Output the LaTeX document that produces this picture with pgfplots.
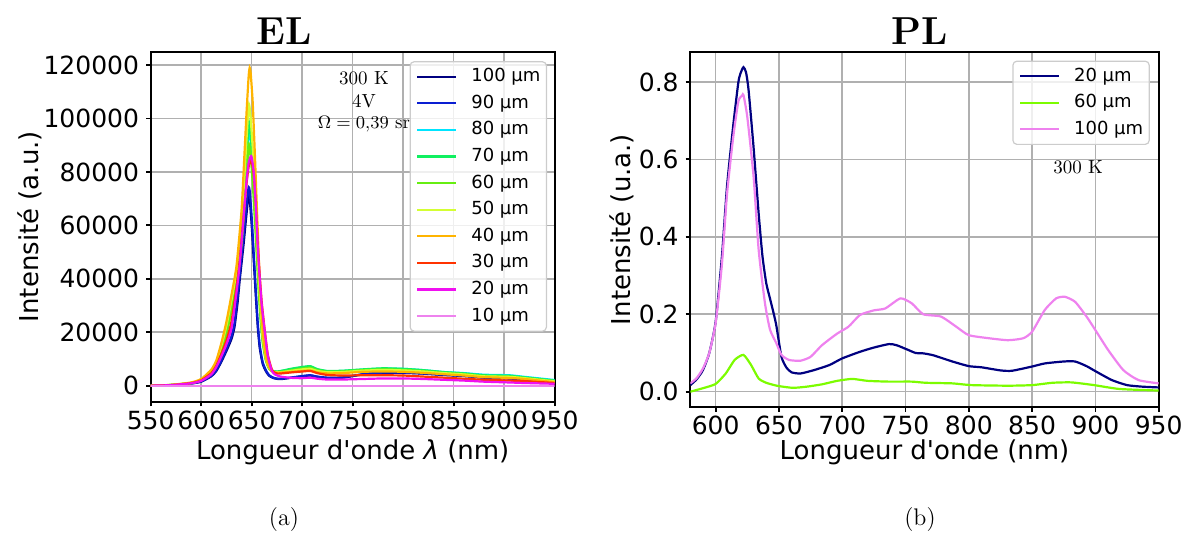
\documentclass[border=0pt]{standalone}
\usepackage{fontspec}
\setsansfont{DejaVu Sans}
\newfontfamily\djv{DejaVu Sans}
\usepackage{pgfplots}
\pgfplotsset{compat=1.18}
\definecolor{gridgray}{HTML}{B0B0B0}
\definecolor{leggray}{HTML}{CCCCCC}
\definecolor{cA}{HTML}{000080}
\definecolor{cB}{HTML}{0A1ED2}
\definecolor{cC}{HTML}{00E5FF}
\definecolor{cD}{HTML}{10F060}
\definecolor{cE}{HTML}{66EE11}
\definecolor{cF}{HTML}{D4FF33}
\definecolor{cG}{HTML}{FFB400}
\definecolor{cH}{HTML}{FF3300}
\definecolor{cI}{HTML}{F010F0}
\definecolor{cJ}{HTML}{EE82EE}
\definecolor{pNavy}{HTML}{000080}
\definecolor{pLime}{HTML}{7CFC00}
\definecolor{pViolet}{HTML}{EE82EE}
\pgfplotsset{
  mpl/.style={
    scale only axis,
    axis line style={line width=0.9pt},
    grid=major,
    major grid style={line width=0.8pt, gridgray},
    tick align=outside,
    tick pos=left,
    major tick length=2.3pt,
    tick style={line width=0.9pt, black},
    tick label style={font=\sffamily\fontsize{12.5}{15}\selectfont},
    xticklabel style={inner sep=2pt},
    /pgf/number format/assume math mode=true,
    every axis plot/.append style={line width=1.1pt, mark=none, smooth, tension=0.35},
    legend cell align=left,
    legend image code/.code={\draw[##1, sharp plot] (0pt,0pt) -- (19.5pt,0pt);},
    legend style={anchor=north east, draw=leggray, fill=white, fill opacity=0.8,
      draw opacity=1, text opacity=1, rounded corners=2pt, line width=0.6pt,
      font=\sffamily\fontsize{9}{11}\selectfont, inner xsep=3pt, inner ysep=3pt,
      row sep=4.3pt, column sep=7pt,
      nodes={inner sep=0pt, text height=7pt, text depth=2pt}},
  }
}
\begin{document}
\begin{tikzpicture}
\path[use as bounding box] (0,0) rectangle (595pt,-267.5pt);
% ---------------- EL ----------------
\begin{axis}[mpl, at={(75.35pt,-200.85pt)}, anchor=south west, width=202pt, height=175pt,
  xmin=550, xmax=950, ymin=-6000, ymax=125000,
  xtick={550,600,650,700,750,800,850,900,950},
  ytick={0,20000,40000,60000,80000,100000,120000},
  scaled y ticks=false,
  yticklabel style={/pgf/number format/fixed, /pgf/number format/1000 sep={}},
  xticklabel style={/pgf/number format/1000 sep={}},
  legend style={at={(0.981,0.973)}},
]
\node[font=\rmfamily\fontsize{9.5}{11}\selectfont] at (rel axis cs:0.528,0.925) {300 K};
\node[font=\rmfamily\fontsize{9.5}{11}\selectfont] at (rel axis cs:0.528,0.859) {4V};
\node[font=\rmfamily\fontsize{9.5}{11}\selectfont] at (rel axis cs:0.528,0.793) {$\Omega = 0{,}39$ sr};
\addplot[cA] coordinates {(550,0)(570,200)(590,800)(600,1500)(610,3500)(615,5500)(620,9000)(625,13000)(630,17500)(633,22000)(636,31000)(638,39000)(640,46000)(642,53000)(644,61000)(646,68500)(647,71000)(648,70000)(650,60000)(652,47000)(654,34000)(656,22000)(658,14000)(661,8000)(665,4800)(668,3500)(672,2800)(676,2500)(680,2500)(690,3000)(700,3500)(708,3800)(715,3300)(725,2900)(740,3000)(760,4200)(780,4800)(800,4800)(820,4500)(840,4000)(860,3600)(880,3000)(905,2700)(920,2300)(950,1100)};
\addlegendentry{100 µm}
\addplot[cB] coordinates {(550,0)(570,210)(590,850)(600,1600)(610,3700)(615,5800)(620,9500)(625,13700)(630,18500)(633,23500)(636,33000)(638,41000)(640,48500)(642,56000)(644,64000)(646,71500)(647,74300)(648,73000)(650,63000)(652,49500)(654,36000)(656,23500)(658,15000)(661,8600)(665,5100)(668,3700)(672,2900)(676,2600)(680,2600)(690,3100)(700,3600)(708,3900)(715,3400)(725,3000)(740,3100)(760,4300)(780,4900)(800,4900)(820,4600)(840,4100)(860,3700)(880,3100)(905,2800)(920,2400)(950,1150)};
\addlegendentry{90 µm}
\addplot[cC] coordinates {(550,0)(570,240)(590,950)(600,2100)(610,5000)(615,8000)(620,13500)(625,20500)(630,29000)(635,39000)(640,55500)(643,72000)(645,84000)(647,96000)(648,95000)(649,91500)(651,80500)(653,67000)(655,51500)(657,37000)(659,25000)(661,16500)(664,9800)(667,6600)(670,5500)(675,5200)(680,5500)(690,6200)(700,6800)(708,7100)(715,6000)(725,5400)(740,5500)(760,6000)(780,6400)(800,6300)(820,5800)(840,5100)(860,4700)(880,4100)(905,3900)(920,3300)(950,2100)};
\addlegendentry{80 µm}
\addplot[cD] coordinates {(550,0)(570,250)(590,1000)(600,2200)(610,5300)(615,8300)(620,14000)(625,21000)(630,30000)(635,40000)(640,57000)(643,74000)(645,86000)(647,98500)(648,97500)(649,94000)(651,83000)(653,69000)(655,53000)(657,38000)(659,26000)(661,17000)(664,10000)(667,6700)(670,5600)(675,5300)(680,5600)(690,6400)(700,7000)(708,7300)(715,6200)(725,5500)(740,5600)(760,6100)(780,6500)(800,6300)(820,5800)(840,5100)(860,4600)(880,3900)(905,3700)(920,3100)(950,1900)};
\addlegendentry{70 µm}
\addplot[cE] coordinates {(550,0)(570,240)(590,950)(600,2100)(610,5000)(615,7800)(620,13000)(625,19500)(630,28000)(635,37500)(640,53000)(643,68000)(645,79000)(647,90000)(648,89000)(649,86000)(651,76000)(653,63000)(655,49000)(657,35000)(659,24000)(661,16000)(664,9500)(667,6500)(670,5400)(675,5000)(680,5200)(690,5800)(700,6400)(708,6700)(715,5800)(725,5200)(740,5300)(760,5800)(780,6100)(800,5900)(820,5400)(840,4800)(860,4300)(880,3600)(905,3400)(920,2900)(950,1700)};
\addlegendentry{60 µm}
\addplot[cF] coordinates {(550,0)(570,280)(590,1100)(600,2400)(610,5700)(615,9000)(620,15000)(625,22500)(630,32000)(635,43000)(640,61000)(643,80000)(645,93000)(647,105000)(648,104000)(649,100000)(651,89000)(653,74000)(655,57000)(657,41000)(659,28000)(661,18000)(664,10500)(667,6800)(670,5500)(675,5000)(680,5100)(690,5600)(700,6100)(708,6300)(715,5500)(725,5000)(740,5100)(760,5600)(780,5900)(800,5700)(820,5300)(840,4700)(860,4200)(880,3500)(905,3300)(920,2800)(950,1600)};
\addlegendentry{50 µm}
\addplot[cG] coordinates {(550,0)(570,300)(590,1200)(600,2500)(610,6000)(615,9500)(620,16000)(625,24000)(630,34000)(635,45000)(640,66000)(643,88000)(645,103000)(647,116000)(648,119000)(649,117000)(651,106000)(653,88000)(655,68000)(657,48000)(659,32000)(661,20000)(664,11000)(667,7000)(670,5500)(675,4800)(680,4900)(690,5200)(700,5500)(708,5700)(715,5000)(725,4600)(740,4700)(760,5200)(780,5300)(800,5200)(820,4800)(840,4300)(860,3800)(880,3200)(905,2900)(920,2500)(950,1300)};
\addlegendentry{40 µm}
\addplot[cH] coordinates {(550,0)(570,220)(590,950)(600,2000)(610,4700)(615,7500)(620,12000)(625,17000)(630,24000)(635,37000)(638,46500)(640,55000)(643,68000)(645,76000)(647,82000)(649,84500)(650,84000)(652,79000)(654,68000)(656,53000)(658,41000)(660,31000)(663,20500)(666,11500)(670,6000)(673,4800)(676,4500)(680,4600)(690,5000)(700,5300)(708,5500)(715,4700)(725,4000)(740,3800)(760,3900)(780,3900)(800,3800)(820,3400)(840,3000)(860,2600)(880,2200)(905,1900)(920,1700)(950,1000)};
\addlegendentry{30 µm}
\addplot[cI] coordinates {(550,0)(570,200)(590,900)(600,1800)(610,4200)(615,7000)(620,11000)(625,15500)(630,21500)(635,35000)(638,45000)(640,54000)(643,68000)(645,77000)(647,83500)(649,85800)(650,85500)(652,80000)(654,68000)(656,52000)(658,40000)(660,30000)(663,20000)(666,11000)(670,5500)(673,4200)(676,3700)(680,3300)(690,2900)(700,2800)(708,3000)(715,2600)(725,2300)(740,2300)(760,2500)(780,2700)(800,2700)(820,2500)(840,2200)(860,1900)(880,1500)(905,1200)(920,1000)(950,700)};
\addlegendentry{20 µm}
\addplot[cJ] coordinates {(550,0)(950,0)};
\addlegendentry{10 µm}
\end{axis}
% ---------------- PL ----------------
\begin{axis}[mpl, at={(345.15pt,-203.65pt)}, anchor=south west, width=234.2pt, height=177.8pt,
  xmin=580, xmax=950, ymin=-0.0403, ymax=0.878,
  xtick={600,650,700,750,800,850,900,950},
  ytick={0,0.2,0.4,0.6,0.8},
  yticklabel style={/pgf/number format/fixed, /pgf/number format/fixed zerofill, /pgf/number format/precision=1},
  legend style={at={(0.981,0.975)}},
]
\node[font=\rmfamily\fontsize{9.5}{11}\selectfont] at (rel axis cs:0.828,0.676) {300 K};
\addplot[pNavy] coordinates {(580,0.017)(585,0.032)(590,0.056)(595,0.10)(600,0.18)(605,0.35)(609,0.53)(614,0.69)(618,0.80)(620,0.825)(622,0.838)(624,0.825)(626,0.78)(630,0.63)(634,0.46)(637,0.35)(640,0.28)(643,0.24)(646,0.20)(648,0.17)(652,0.09)(656,0.062)(660,0.05)(667,0.047)(678,0.056)(690,0.069)(700,0.086)(714,0.103)(725,0.114)(737,0.123)(743,0.12)(752,0.108)(758,0.1)(764,0.099)(772,0.094)(787,0.078)(800,0.066)(810,0.063)(825,0.055)(834,0.054)(850,0.065)(860,0.073)(875,0.078)(884,0.078)(893,0.066)(900,0.053)(913,0.030)(925,0.017)(937,0.013)(950,0.011)};
\addlegendentry{20 µm}
\addplot[pLime] coordinates {(580,0.0)(590,0.009)(600,0.02)(608,0.047)(615,0.082)(622,0.095)(628,0.069)(634,0.034)(640,0.023)(649,0.015)(661,0.010)(672,0.013)(684,0.019)(696,0.028)(708,0.033)(720,0.028)(737,0.026)(755,0.026)(766,0.023)(787,0.0215)(802,0.017)(831,0.0155)(850,0.017)(866,0.023)(881,0.024)(899,0.017)(919,0.007)(950,0.003)};
\addlegendentry{60 µm}
\addplot[pViolet] coordinates {(580,0.0215)(585,0.035)(590,0.06)(595,0.10)(600,0.177)(605,0.33)(609,0.51)(614,0.66)(618,0.75)(621,0.765)(622,0.766)(625,0.71)(630,0.555)(634,0.366)(639,0.228)(643,0.16)(648,0.125)(652,0.095)(658,0.082)(667,0.08)(675,0.09)(684,0.12)(696,0.15)(705,0.168)(714,0.198)(725,0.21)(734,0.215)(746,0.241)(755,0.228)(764,0.2)(778,0.194)(790,0.168)(800,0.146)(816,0.138)(831,0.133)(843,0.138)(850,0.155)(860,0.211)(869,0.241)(876,0.245)(884,0.232)(893,0.194)(900,0.159)(910,0.108)(922,0.056)(934,0.03)(950,0.0215)};
\addlegendentry{100 µm}
\end{axis}
% ---------------- labels ----------------
\node[rotate=90, font=\sffamily\fontsize{13}{15}\selectfont] at (15pt,-113.3pt) {Intensité (a.u.)};
\node[rotate=90, font=\sffamily\fontsize{13}{15}\selectfont] at (311pt,-114.75pt) {Intensité (u.a.)};
\node[font=\djv\fontsize{13}{15}\selectfont] at (176.35pt,-226pt) {Longueur d'onde {\itshape λ} (nm)};
\node[font=\djv\fontsize{13}{15}\selectfont] at (462.25pt,-226pt) {Longueur d'onde (nm)};
\node[font=\rmfamily\bfseries\fontsize{19.5}{22}\selectfont] at (142pt,-15.5pt) {EL};
\node[font=\rmfamily\bfseries\fontsize{19.5}{22}\selectfont] at (460pt,-15.5pt) {PL};
\node[font=\rmfamily\fontsize{12}{14}\selectfont] at (142pt,-260pt) {(a)};
\node[font=\rmfamily\fontsize{12}{14}\selectfont] at (460pt,-260pt) {(b)};
\end{tikzpicture}
\end{document}
